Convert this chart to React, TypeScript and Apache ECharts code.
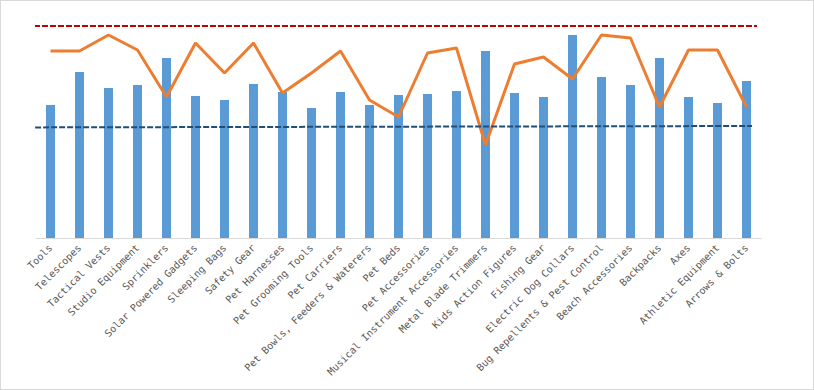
import React, { useEffect, useRef } from "react";
import * as echarts from "echarts";

const categories = [
  "Tools", "Telescopes", "Tactical Vests", "Studio Equipment", "Sprinklers",
  "Solar Powered Gadgets", "Sleeping Bags", "Safety Gear", "Pet Harnesses",
  "Pet Grooming Tools", "Pet Carriers", "Pet Bowls, Feeders & Waterers", "Pet Beds",
  "Pet Accessories", "Musical Instrument Accessories", "Metal Blade Trimmers",
  "Kids Action Figures", "Fishing Gear", "Electric Dog Collars",
  "Bug Repellents & Pest Control", "Beach Accessories", "Backpacks", "Axes",
  "Athletic Equipment", "Arrows & Bolts",
];

const barValues = [
  133, 166, 150, 153, 180, 142, 138, 154, 146, 130, 146, 133, 143,
  144, 147, 187, 145, 141, 203, 161, 153, 180, 141, 135, 157,
];

const lineValues = [
  187, 187, 203, 188, 141, 195, 165, 195, 145, 165, 187, 138, 121,
  185, 190, 93, 174, 181, 159, 203, 200, 131, 188, 188, 131,
];

// reference lines: [start position, value], [end position, value]
const upperRef = [[-0.07, 212], [24.86, 212]];
const lowerRef = [[-0.03, 110.6], [24.69, 112]];

const App = () => {
  const ref = useRef<HTMLDivElement>(null);
  useEffect(() => {
    if (!ref.current) return;
    const chart = echarts.init(ref.current, null, { renderer: "svg" });
    chart.setOption({
      animation: false,
      grid: { left: 36, right: 53, top: 18, bottom: 152 },
      xAxis: [
        {
          type: "category",
          data: categories,
          axisLine: { lineStyle: { color: "#d9d9d9", width: 1 } },
          axisTick: { show: false },
          axisLabel: {
            rotate: 45,
            interval: 0,
            margin: 8,
            fontSize: 10,
            fontFamily: "DejaVu Sans Mono",
            color: "#595959",
          },
        },
        { type: "value", min: 0, max: 25, show: false },
      ],
      yAxis: { type: "value", min: 0, max: 220, show: false },
      series: [
        {
          type: "bar",
          data: barValues,
          barWidth: 9,
          itemStyle: { color: "#5b9bd5" },
        },
        {
          type: "line",
          data: lineValues,
          symbol: "none",
          lineStyle: { color: "#ed7d31", width: 3 },
        },
        {
          type: "line",
          xAxisIndex: 1,
          data: upperRef,
          symbol: "none",
          clip: false,
          lineStyle: { color: "#c00000", width: 2, type: [6, 2] },
        },
        {
          type: "line",
          xAxisIndex: 1,
          data: lowerRef,
          symbol: "none",
          clip: false,
          lineStyle: { color: "#1f4e79", width: 2, type: [6, 2] },
        },
      ],
    });
    return () => chart.dispose();
  }, []);
  return (
    <div
      style={{
        position: "fixed",
        left: 0,
        top: 0,
        width: 814,
        height: 390,
        boxSizing: "border-box",
        border: "1px solid #d9d9d9",
        background: "#fff",
      }}
    >
      <div ref={ref} style={{ position: "absolute", left: -1, top: -1, width: 814, height: 390 }} />
    </div>
  );
};

export default App;
